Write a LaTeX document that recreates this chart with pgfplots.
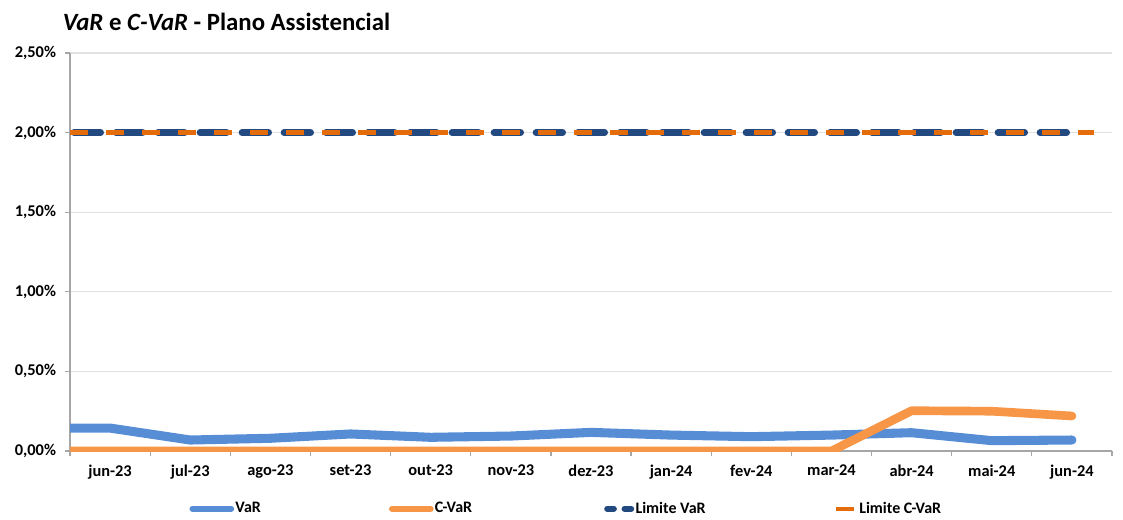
\documentclass[border=0pt]{standalone}
\usepackage{fontspec}
\setmainfont{Carlito}
\usepackage{pgfplots}
\pgfplotsset{compat=1.18}
\definecolor{varblue}{RGB}{86,141,213}
\definecolor{cvarorange}{RGB}{247,150,70}
\definecolor{limblue}{RGB}{35,74,128}
\definecolor{limorange}{RGB}{228,108,10}
\definecolor{axgray}{RGB}{166,166,166}
\definecolor{gridgray}{RGB}{225,225,225}
\begin{document}
\begin{tikzpicture}[x=1pt,y=1pt]
\path[use as bounding box] (-52.5,-51) rectangle (789.75,338.25);
\begin{axis}[
  at={(0,0)}, anchor=south west,
  scale only axis, width=781.5pt, height=298.5pt,
  xmin=-0.5, xmax=12.5, ymin=0, ymax=2.5,
  axis x line*=bottom, axis y line*=left,
  axis line style={axgray, line width=0.9pt},
  ymajorgrids, grid style={gridgray, line width=0.8pt},
  ytick={0,0.5,1,1.5,2,2.5},
  yticklabels={{0,00\%},{0,50\%},{1,00\%},{1,50\%},{2,00\%},{2,50\%}},
  xtick={0,1,2,3,4,5,6,7,8,9,10,11,12},
  xticklabels={jun-23,jul-23,ago-23,set-23,out-23,nov-23,dez-23,jan-24,fev-24,mar-24,abr-24,mai-24,jun-24},
  minor xtick={-0.5,0.5,1.5,2.5,3.5,4.5,5.5,6.5,7.5,8.5,9.5,10.5,11.5,12.5},
  tick align=outside,
  major x tick style={draw=none},
  minor tick length=4pt, major tick length=4pt,
  tick style={axgray, line width=0.9pt},
  ticklabel style={font=\bfseries\fontsize{12.3}{14}\selectfont, text=black},
  yticklabel style={xshift=-3pt},
  xticklabel style={yshift=-3pt},
  legend columns=4,
  legend style={draw=none, at={(0.476,-0.145)}, anchor=center,
    font=\bfseries\fontsize{12}{14}\selectfont,
    /tikz/every even column/.append style={column sep=95pt},
    inner sep=0pt, nodes={inner sep=1pt}},
  legend cell align=left,
]
\addplot[varblue, line width=6.8pt, line join=round, line cap=round,
  legend image code/.code={\draw[varblue, line width=4.5pt, line cap=round] (0pt,0pt) -- (29pt,0pt);}]
  coordinates {(-0.6,0.144) (0,0.144) (1,0.069) (2,0.080) (3,0.107) (4,0.086) (5,0.094) (6,0.117) (7,0.100) (8,0.090) (9,0.100) (10,0.115) (11,0.065) (12,0.069)};
\addlegendentry{VaR}
\addplot[cvarorange, line width=6.5pt, line join=round, line cap=round,
  legend image code/.code={\draw[cvarorange, line width=4.5pt, line cap=round] (0pt,0pt) -- (29pt,0pt);}]
  coordinates {(-0.6,0) (0,0) (1,0) (2,0) (3,0) (4,0) (5,0) (6,0) (7,0) (8,0) (9,0) (10,0.253) (11,0.250) (12,0.220)};
\addlegendentry{C-VaR}
\addplot[limblue, line width=5pt, line cap=round, dash pattern=on 20pt off 11.5pt, dash phase=-3pt,
  legend image code/.code={\draw[limblue, line width=4.5pt, line cap=round] (2pt,0pt) -- (10pt,0pt) (15pt,0pt) -- (23pt,0pt);}]
  coordinates {(-0.5,2) (0,2) (1,2) (2,2) (3,2) (4,2) (5,2) (6,2) (7,2) (8,2) (9,2) (10,2) (11,2) (12,2) (12.0,2)};
\addlegendentry{Limite VaR}
\addplot[limorange, line width=3.2pt, dash pattern=on 13.5pt off 13.5pt, dash phase=0pt,
  legend image code/.code={\draw[limorange, line width=3.2pt] (2pt,0pt) -- (17pt,0pt);}]
  coordinates {(-0.5,2) (0,2) (1,2) (2,2) (3,2) (4,2) (5,2) (6,2) (7,2) (8,2) (9,2) (10,2) (11,2) (12,2) (12.27,2)};
\addlegendentry{Limite C-VaR}
\end{axis}
\node[anchor=base west, inner sep=0pt, font=\bfseries\fontsize{18.6}{20}\selectfont] at (-5.5,315.5) {\textit{VaR} e \textit{C-VaR} - Plano Assistencial};
\end{tikzpicture}
\end{document}
